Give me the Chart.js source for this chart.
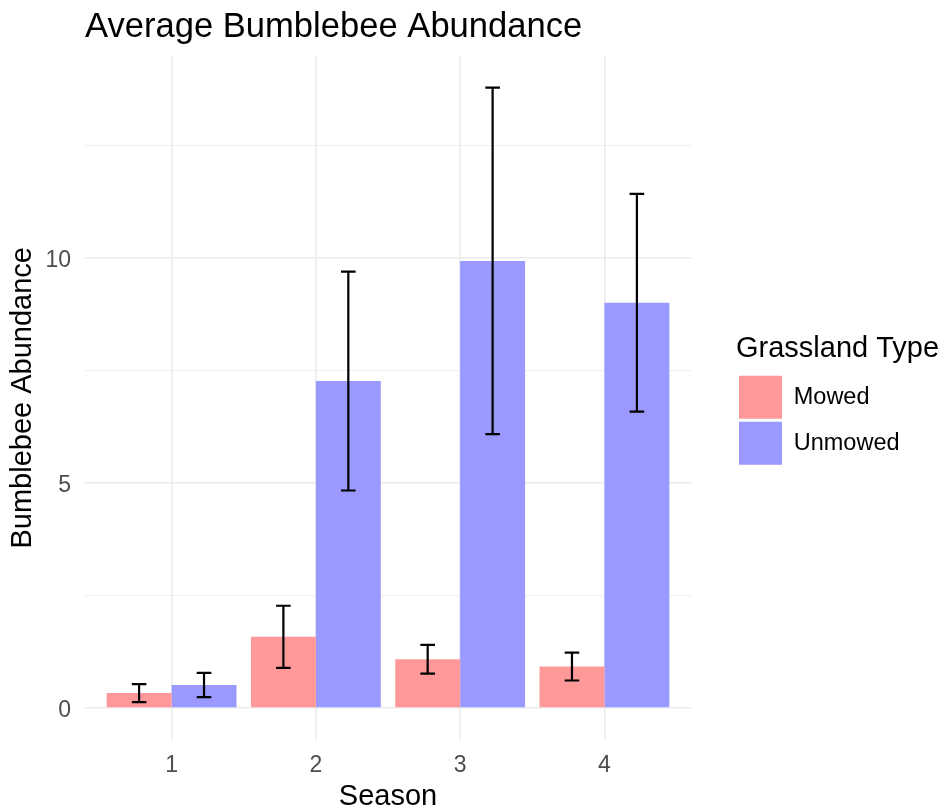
<!DOCTYPE html>
<html>
<head>
<meta charset="utf-8">
<title>Average Bumblebee Abundance</title>
<script src="https://cdn.jsdelivr.net/npm/chart.js@4/dist/chart.umd.min.js"></script>
<style>
    body { margin: 0; background: #fff; }
    canvas { display: block; }
</style>
</head>
<body>
<canvas id="beeChart" width="941" height="812"></canvas>
<script>
const seasons = [1, 2, 3, 4];
const mowedMean = [0.33, 1.58, 1.08, 0.92];
const mowedSE = [0.20, 0.69, 0.32, 0.31];
const unmowedMean = [0.51, 7.26, 9.93, 9.00];
const unmowedSE = [0.27, 2.43, 3.85, 2.42];
const yTickValues = [0, 2.5, 5, 7.5, 10, 12.5];
const yTickLabels = ['0', '', '5', '', '10', ''];

Chart.defaults.font.family = "'Liberation Sans', Arial, sans-serif";
Chart.defaults.color = '#000';

// mean +/- se whiskers on top of each bar
const errorBars = {
    id: 'errorBars',
    afterDatasetsDraw(chart) {
        const { ctx } = chart;
        const y = chart.scales.y;
        ctx.save();
        ctx.strokeStyle = '#000';
        ctx.lineWidth = 2.2;
        chart.data.datasets.forEach((ds, i) => {
            chart.getDatasetMeta(i).data.forEach((bar, j) => {
                const mean = ds.data[j].y;
                const top = y.getPixelForValue(mean + ds.se[j]);
                const bottom = y.getPixelForValue(mean - ds.se[j]);
                const half = 7.3;
                ctx.beginPath();
                ctx.moveTo(bar.x, top);
                ctx.lineTo(bar.x, bottom);
                ctx.moveTo(bar.x - half, top);
                ctx.lineTo(bar.x + half, top);
                ctx.moveTo(bar.x - half, bottom);
                ctx.lineTo(bar.x + half, bottom);
                ctx.stroke();
            });
        });
        ctx.restore();
    }
};

// the legend only measures its items, so widen it to fit the title
const legendWidth = {
    id: 'legendWidth',
    beforeInit(chart) {
        const fit = chart.legend.fit;
        chart.legend.fit = function () {
            fit.call(this);
            this.width = 205;
        };
    }
};

const gridColor = '#EBEBEB';

new Chart(document.getElementById('beeChart'), {
    type: 'bar',
    data: {
        datasets: [
            {
                label: 'Mowed',
                data: seasons.map((s, i) => ({ x: s, y: mowedMean[i] })),
                se: mowedSE,
                backgroundColor: 'rgb(255, 153, 153)',
                borderWidth: 0
            },
            {
                label: 'Unmowed',
                data: seasons.map((s, i) => ({ x: s, y: unmowedMean[i] })),
                se: unmowedSE,
                backgroundColor: 'rgb(153, 153, 255)',
                borderWidth: 0
            }
        ]
    },
    options: {
        responsive: false,
        animation: false,
        categoryPercentage: 0.9,
        barPercentage: 1.0,
        layout: { padding: { top: 0, right: 0, bottom: 0, left: 0 } },
        plugins: {
            tooltip: { enabled: false },
            title: {
                display: true,
                text: 'Average Bumblebee Abundance',
                align: 'start',
                fullSize: false,
                color: '#000',
                font: { size: 34.6, weight: 'normal', lineHeight: 1.2 },
                padding: { top: 7, bottom: 8 }
            },
            legend: {
                position: 'right',
                align: 'start',
                title: {
                    display: true,
                    text: 'Grassland Type',
                    position: 'start',
                    color: '#000',
                    font: { size: 29, lineHeight: 1.2 },
                    padding: { top: 334, bottom: 4 }
                },
                labels: {
                    boxWidth: 43,
                    boxHeight: 43,
                    padding: 3,
                    color: '#000',
                    font: { size: 23.5 }
                }
            }
        },
        scales: {
            x: {
                type: 'linear',
                min: 0.4,
                max: 4.6,
                offset: false,
                afterBuildTicks: axis => { axis.ticks = seasons.map(v => ({ value: v })); },
                afterFit: axis => { axis.height = 73; },
                grid: { color: gridColor, lineWidth: 1.6, drawTicks: false, offset: false },
                border: { display: false },
                ticks: { color: '#4D4D4D', font: { size: 23 }, padding: 13 },
                title: {
                    display: true,
                    text: 'Season',
                    color: '#000',
                    font: { size: 29, lineHeight: 1 },
                    padding: { top: 0, bottom: 1 }
                }
            },
            y: {
                min: -0.69,
                max: 14.47,
                afterBuildTicks: axis => { axis.ticks = yTickValues.map(v => ({ value: v })); },
                afterFit: axis => { axis.width = 85; },
                grid: {
                    color: gridColor,
                    drawTicks: false,
                    lineWidth: c => (c.tick && c.tick.value % 5 === 0 ? 1.6 : 0.8)
                },
                border: { display: false },
                ticks: {
                    color: '#4D4D4D',
                    font: { size: 23 },
                    padding: 14,
                    labelOffset: 3,
                    callback: (v, i) => yTickLabels[i]
                },
                title: {
                    display: true,
                    text: 'Bumblebee Abundance',
                    color: '#000',
                    font: { size: 29, lineHeight: 1.2 },
                    padding: { top: 5.6, bottom: 0 }
                }
            },
            gap: {
                position: 'right',
                display: true,
                afterFit: axis => { axis.width = 45; },
                grid: { display: false, drawOnChartArea: false },
                border: { display: false },
                ticks: { display: false }
            }
        }
    },
    plugins: [errorBars, legendWidth]
});
</script>
</body>
</html>
